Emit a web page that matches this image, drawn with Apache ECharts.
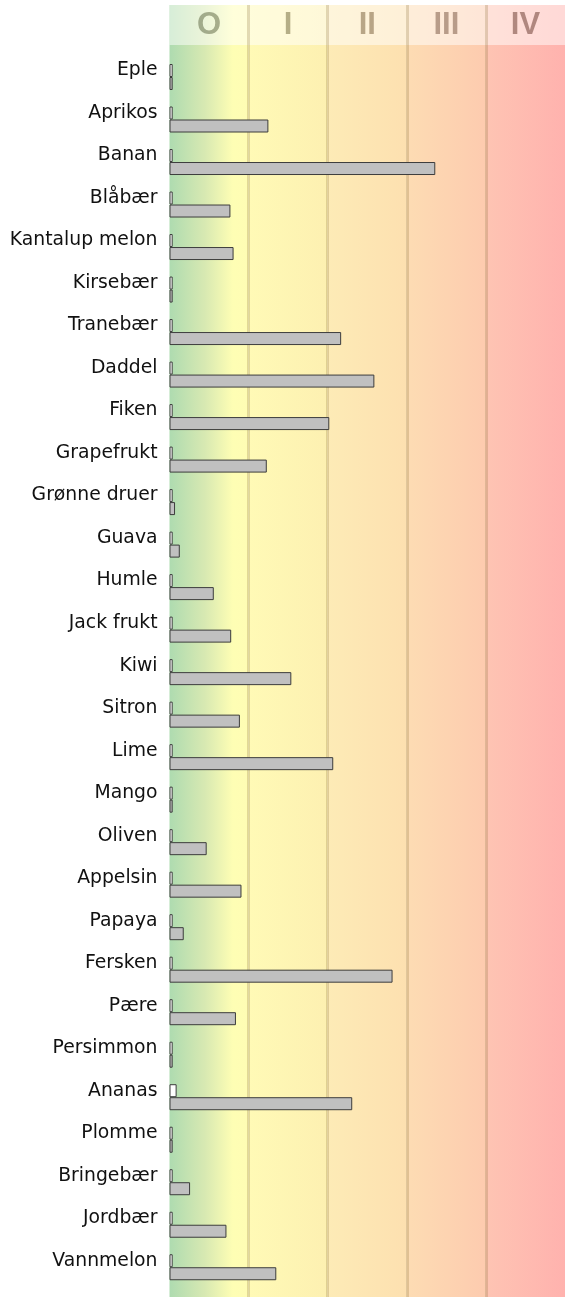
<!DOCTYPE html>
<html>
<head>
<meta charset="utf-8">
<script src="https://cdn.jsdelivr.net/npm/echarts@6/dist/echarts.min.js"></script>
<style>html,body{margin:0;padding:0;background:#fff}#c{width:565px;height:1297px}</style>
</head>
<body>
<div id="c"></div>
<script>
const categories = ['Eple','Aprikos','Banan','Blåbær','Kantalup melon','Kirsebær','Tranebær','Daddel','Fiken','Grapefrukt','Grønne druer','Guava','Humle','Jack frukt','Kiwi','Sitron','Lime','Mango','Oliven','Appelsin','Papaya','Fersken','Pære','Persimmon','Ananas','Plomme','Bringebær','Jordbær','Vannmelon'];
const whiteValues = [0.04,0.04,0.04,0.04,0.04,0.04,0.04,0.04,0.04,0.04,0.04,0.04,0.04,0.04,0.04,0.04,0.04,0.04,0.04,0.04,0.04,0.04,0.04,0.04,0.09,0.04,0.04,0.04,0.04];
const greyValues = [0.04,1.25,3.36,0.77,0.81,0.04,2.17,2.59,2.02,1.23,0.07,0.13,0.56,0.78,1.54,0.89,2.07,0.04,0.47,0.91,0.18,2.82,0.84,0.04,2.31,0.04,0.26,0.72,1.35];
const gradeLabels = ['O','I','II','III','IV'];
const gradeBounds = [0,1,2,3,4,5];
const bandColors = [
  [['#aedbb0',0],['#d8e9b2',0.45],['#fefeb4',0.8],['#fffcb4',1]],
  [['#fffab6',0],['#fdf0b1',1]],
  [['#fdebb6',0],['#fde0b0',1]],
  [['#fddcb3',0],['#fdcbaf',1]],
  [['#fec4b3',0],['#ffb2ae',1]]
];
const headerColors = ['rgba(60,70,30,0.42)','rgba(70,60,10,0.40)','rgba(80,50,10,0.40)','rgba(80,40,20,0.40)','rgba(80,30,20,0.45)'];

function grad(stops){
  return new echarts.graphic.LinearGradient(0,0,1,0, stops.map(s=>({offset:s[1],color:s[0]})));
}
const bandAreas = gradeLabels.map((g,i)=>[
  {xAxis:gradeBounds[i], yAxis:0, itemStyle:{color:grad(bandColors[i])}},
  {xAxis:gradeBounds[i+1], yAxis:1292}
]);
const headerAreas = gradeLabels.map((g,i)=>[
  {xAxis:gradeBounds[i], yAxis:0, name:g, label:{color:headerColors[i]}},
  {xAxis:gradeBounds[i+1], yAxis:40}
]);

const chart = echarts.init(document.getElementById('c'), null, {renderer:'canvas'});
chart.setOption({
  animation:false,
  grid:[
    {left:169.5, right:-5, top:55.75, bottom:8.5},
    {left:169.5, right:-5, top:5, bottom:0}
  ],
  xAxis:[
    {gridIndex:0, type:'value', min:0, max:5, show:false},
    {gridIndex:1, type:'value', min:0, max:5, show:false}
  ],
  yAxis:[
    {gridIndex:0, type:'category', data:categories, inverse:true,
     axisLine:{show:false}, axisTick:{show:false}, splitLine:{show:false},
     axisLabel:{color:'#111111', fontFamily:'DejaVu Sans', fontSize:18.8, margin:12,
       verticalAlign:'bottom', lineHeight:13}},
    {gridIndex:1, type:'value', min:0, max:1292, inverse:true, show:false}
  ],
  series:[
    {type:'scatter', xAxisIndex:1, yAxisIndex:1, data:[], z:1, silent:true,
     markArea:{silent:true, data:bandAreas}},
    {type:'scatter', xAxisIndex:1, yAxisIndex:1, data:[], z:2, silent:true,
     markLine:{silent:true, symbol:'none', label:{show:false},
       lineStyle:{type:'solid', width:3, color:'rgba(140,110,50,0.25)'},
       data:gradeBounds.slice(1,5).map(v=>({xAxis:v}))}},
    {type:'scatter', xAxisIndex:1, yAxisIndex:1, data:[], z:3, silent:true,
     markArea:{silent:true, itemStyle:{color:'rgba(255,255,255,0.5)'},
       label:{show:true, position:'inside', fontFamily:'Liberation Sans', fontWeight:'bold', fontSize:31},
       data:headerAreas}},
    {type:'bar', name:'white', xAxisIndex:0, yAxisIndex:0, data:whiteValues, barWidth:13, barGap:'0%', z:5,
     itemStyle:{color:'#ffffff', borderColor:'#3c3c3c', borderWidth:1}},
    {type:'bar', name:'grey', xAxisIndex:0, yAxisIndex:0, data:greyValues, barWidth:13, barGap:'0%', z:5,
     itemStyle:{color:'#c0c0c0', borderColor:'#3c3c3c', borderWidth:1}}
  ]
});
</script>
</body>
</html>
